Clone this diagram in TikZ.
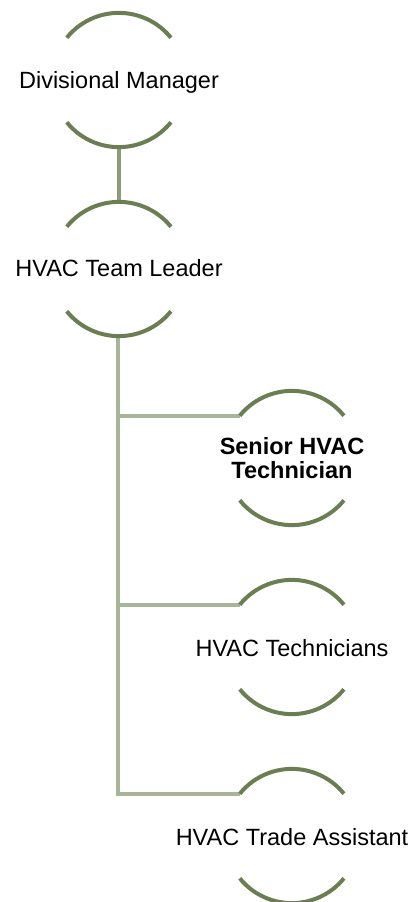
\documentclass[tikz,border=0pt]{standalone}
\usepackage{fontspec}
\setmainfont{Liberation Sans}
\usetikzlibrary{positioning}

\definecolor{archgreen}{HTML}{6B7D53}
\definecolor{linkgreen}{HTML}{8C9C78}
\definecolor{trunkgreen}{HTML}{A9B59B}

\tikzset{
  ring/.style={circle, minimum size=134pt, inner sep=0pt},
  role/.style={font=\fontsize{23.5}{24}\selectfont, align=center, inner sep=0pt},
  arch/.style={archgreen, line width=4pt},
  link/.style={linkgreen, line width=4pt},
  trunk/.style={trunkgreen, line width=4pt}
}

\begin{document}
\begin{tikzpicture}[x=1pt, y=-1pt]
  \useasboundingbox (0,0) rectangle (413,902);
  \def\r{67}

  % Define rings
  \node[ring] (dm) at (119,80) {};
  \node[ring] (tl) at (119,269) {};
  \node[ring] (st) at (292,458) {};
  \node[ring] (te) at (292,647) {};
  \node[ring] (ta) at (292,836) {};

  % Label roles
  \node[role] (dmtext) at (119,82) {Divisional Manager};
  \node[role] (tltext) at (119,268) {HVAC Team Leader};
  \node[role] (sttext) at (292,458) {\bfseries Senior HVAC\\\bfseries Technician};
  \node[role] (tetext) at (292,648) {HVAC Technicians};
  \node[role] (tatext) at (292,837) {HVAC Trade Assistant};

  % Draw connectors
  \draw[link] (dm.south) -- (tl.north);
  \draw[trunk] (tl.south |- st.141) -- (st.141);
  \draw[trunk] (tl.south |- te.141) -- (te.141);
  \draw[trunk, line join=miter] ([xshift=-1pt]tl.south) |- (ta.141);

  % Draw arches
  \foreach \ring in {dm, tl, st, te, ta} {
    \draw[arch] (\ring.141) arc[start angle=141, end angle=39, radius=\r pt];
    \draw[arch] (\ring.219) arc[start angle=219, end angle=321, radius=\r pt];
  }
\end{tikzpicture}
\end{document}
